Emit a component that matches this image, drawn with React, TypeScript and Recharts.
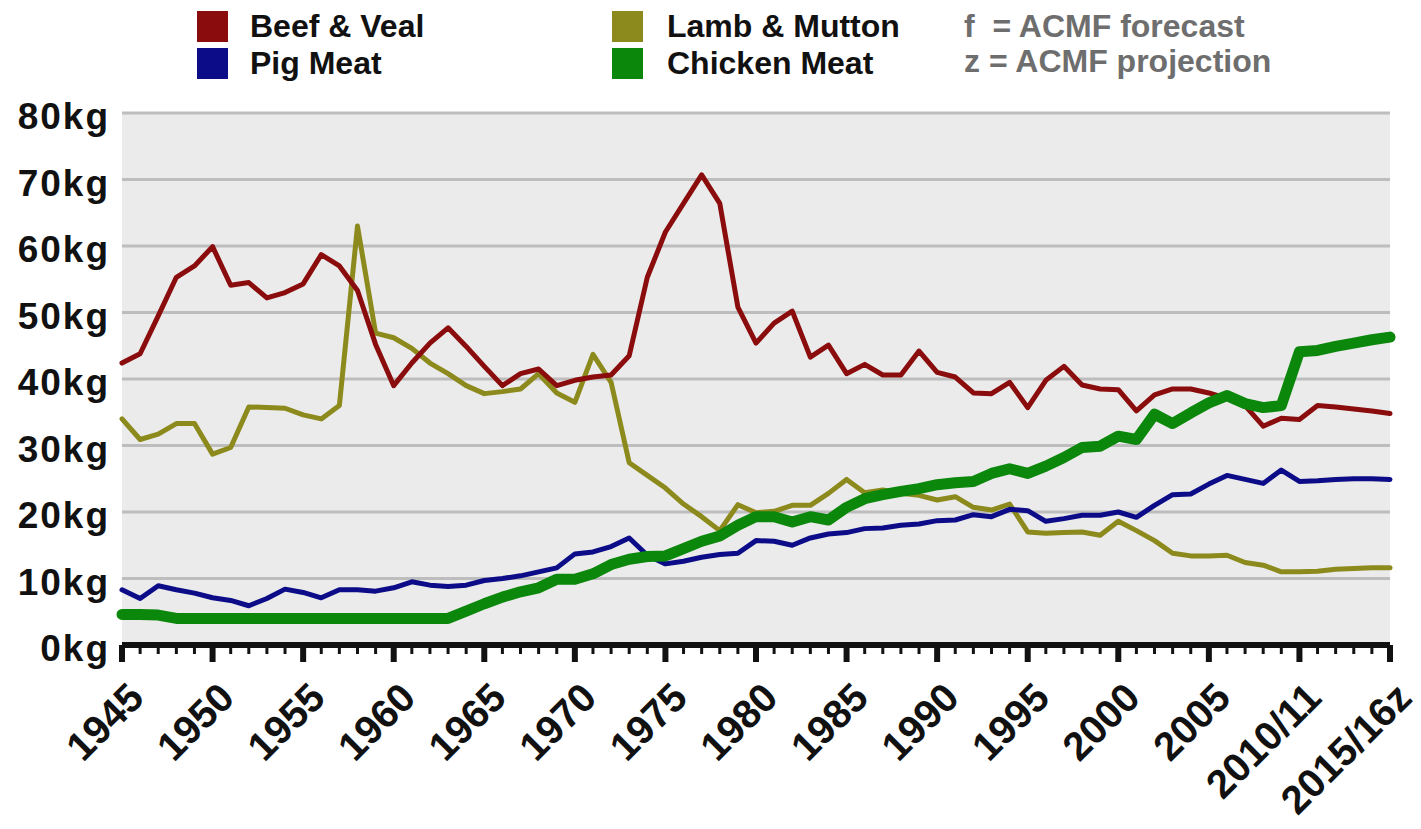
import React from 'react';
import { LineChart, Line, XAxis, YAxis, CartesianGrid } from 'recharts';

// yearly categories, later ones are financial years / projections
const years = [
  '1945', '1946', '1947', '1948', '1949', '1950', '1951', '1952', '1953', '1954',
  '1955', '1956', '1957', '1958', '1959', '1960', '1961', '1962', '1963', '1964',
  '1965', '1966', '1967', '1968', '1969', '1970', '1971', '1972', '1973', '1974',
  '1975', '1976', '1977', '1978', '1979', '1980', '1981', '1982', '1983', '1984',
  '1985', '1986', '1987', '1988', '1989', '1990', '1991', '1992', '1993', '1994',
  '1995', '1996', '1997', '1998', '1999', '2000', '2001', '2002', '2003', '2004',
  '2005', '2006', '2007', '2008', '2009', '2010/11', '2011/12', '2012/13', '2013/14', '2014/15',
  '2015/16z',
];

const beefVeal = [
  42.4, 43.8, 49.5, 55.3, 57, 59.9, 54.1, 54.5, 52.2, 53,
  54.3, 58.7, 57, 53.3, 45.2, 39, 42.4, 45.4, 47.7, 44.9,
  41.9, 39, 40.8, 41.5, 39, 39.8, 40.3, 40.6, 43.5, 55.3,
  62.1, 66.4, 70.7, 66.4, 50.8, 45.4, 48.4, 50.2, 43.3, 45.1,
  40.8, 42.2, 40.6, 40.6, 44.2, 41, 40.3, 37.9, 37.8, 39.5,
  35.7, 39.8, 41.9, 39.1, 38.5, 38.4, 35.2, 37.6, 38.5, 38.5,
  37.9, 37.1, 36, 32.9, 34.1, 33.9, 36, 35.8, 35.5, 35.2,
  34.8,
];

const pigMeat = [
  8.3, 7, 8.9, 8.3, 7.8, 7.1, 6.7, 5.9, 7, 8.4,
  7.9, 7.1, 8.3, 8.3, 8.1, 8.6, 9.5, 9, 8.8, 9,
  9.7, 10, 10.4, 11, 11.6, 13.7, 14, 14.8, 16.1, 13.5,
  12.2, 12.6, 13.2, 13.6, 13.8, 15.7, 15.6, 15, 16.1, 16.7,
  16.9, 17.5, 17.6, 18, 18.2, 18.7, 18.8, 19.6, 19.3, 20.4,
  20.2, 18.6, 19, 19.5, 19.5, 20, 19.2, 21, 22.6, 22.7,
  24.2, 25.5, 24.9, 24.3, 26.3, 24.6, 24.7, 24.9, 25, 25,
  24.9,
];

const lambMutton = [
  34, 30.9, 31.7, 33.3, 33.3, 28.7, 29.7, 35.8, 35.7, 35.6,
  34.6, 34, 36, 63, 46.9, 46.2, 44.6, 42.4, 40.8, 39,
  37.8, 38.1, 38.5, 40.8, 37.9, 36.5, 43.7, 39.5, 27.4, 25.5,
  23.6, 21.2, 19.3, 17.2, 21.1, 19.9, 20.1, 21, 21, 22.8,
  24.9, 22.9, 23.3, 22.8, 22.5, 21.8, 22.3, 20.7, 20.3, 21.2,
  17, 16.8, 16.9, 17, 16.5, 18.6, 17.2, 15.7, 13.8, 13.4,
  13.4, 13.5, 12.4, 12, 11, 11, 11.1, 11.4, 11.5, 11.6,
  11.6,
];

const chickenMeat = [
  4.6, 4.6, 4.5, 4, 4, 4, 4, 4, 4, 4,
  4, 4, 4, 4, 4, 4, 4, 4, 4, 5.1,
  6.2, 7.2, 8, 8.6, 9.9, 9.9, 10.7, 12.1, 12.9, 13.3,
  13.4, 14.5, 15.6, 16.4, 18, 19.3, 19.3, 18.5, 19.3, 18.8,
  20.7, 22, 22.6, 23.1, 23.5, 24.1, 24.4, 24.6, 25.8, 26.5,
  25.8, 26.9, 28.2, 29.7, 29.9, 31.4, 30.9, 34.7, 33.3, 34.9,
  36.4, 37.5, 36.3, 35.7, 36, 44.1, 44.3, 44.9, 45.4, 45.9,
  46.3,
];

const yTicks = [0, 10, 20, 30, 40, 50, 60, 70, 80];

const seriesNames = ['Beef & Veal', 'Pig Meat', 'Lamb & Mutton', 'Chicken Meat'];
const seriesColors = ['#8a0c0c', '#0c0c88', '#8c8a1c', '#0b870b'];
const notes = ['f  = ACMF forecast', 'z = ACMF projection'];

const data = years.map((year, i) => ({
  year,
  beef: beefVeal[i],
  pig: pigMeat[i],
  lamb: lambMutton[i],
  chicken: chickenMeat[i],
}));

const FONT = '"Liberation Sans", Arial, sans-serif';

const XTick = (props: any) => {
  const { x, y, payload } = props;
  const major = years.indexOf(payload.value) % 5 === 0;
  const tx = x + 24;
  const ty = y + 55;
  return (
    <g>
      <line x1={x} x2={x} y1={y} y2={y + (major ? 17 : 9)} stroke="#111" strokeWidth={major ? 6 : 3} />
      {major && (
        <text
          x={tx}
          y={ty}
          transform={`rotate(-45 ${tx} ${ty})`}
          textAnchor="end"
          fontFamily={FONT}
          fontWeight={700}
          fontSize={40}
          fill="#111"
        >
          {payload.value}
        </text>
      )}
    </g>
  );
};

const YTick = (props: any) => {
  const { x, y, payload } = props;
  return (
    <text
      x={x}
      y={y}
      dy={16}
      textAnchor="end"
      fontFamily={FONT}
      fontWeight={700}
      fontSize={37}
      letterSpacing={2}
      fill="#111"
    >
      {`${payload.value}kg`}
    </text>
  );
};

const legendPos = [
  { left: 189, top: 3, textLeft: 242 },
  { left: 189, top: 40, textLeft: 242 },
  { left: 604, top: 3, textLeft: 659 },
  { left: 604, top: 40, textLeft: 659 },
];

const App: React.FC = () => {
  return (
    <div style={{ position: 'relative', width: 1413, height: 821, fontFamily: FONT }}>
      {seriesNames.map((name, i) => (
        <React.Fragment key={name}>
          <div
            style={{
              position: 'absolute',
              left: legendPos[i].left,
              top: legendPos[i].top,
              width: 31,
              height: 31,
              background: seriesColors[i],
            }}
          />
          <div
            style={{
              position: 'absolute',
              left: legendPos[i].textLeft,
              top: legendPos[i].top - 1,
              fontSize: 32,
              lineHeight: '32px',
              fontWeight: 700,
              color: '#111',
              whiteSpace: 'nowrap',
            }}
          >
            {name}
          </div>
        </React.Fragment>
      ))}
      {notes.map((note, i) => (
        <div
          key={note}
          style={{
            position: 'absolute',
            left: 956,
            top: i === 0 ? 2 : 37,
            fontSize: 32,
            lineHeight: '32px',
            fontWeight: 700,
            color: '#6e6e6e',
            whiteSpace: 'pre',
          }}
        >
          {note}
        </div>
      ))}
      <LineChart
        width={1413}
        height={821}
        data={data}
        margin={{ top: 105, right: 31, bottom: 24, left: 4 }}
      >
        <CartesianGrid vertical={false} fill="#ebebeb" stroke="#bdbdbd" strokeWidth={3} />
        <XAxis
          dataKey="year"
          interval={0}
          height={160}
          tickSize={0}
          tickMargin={0}
          axisLine={{ stroke: '#111', strokeWidth: 6 }}
          tickLine={false}
          tick={<XTick />}
        />
        <YAxis
          domain={[0, 80]}
          ticks={yTicks}
          width={110}
          tickSize={0}
          tickMargin={12}
          axisLine={false}
          tickLine={false}
          tick={<YTick />}
        />
        <Line type="linear" dataKey="lamb" stroke={seriesColors[2]} strokeWidth={5} dot={false} strokeLinejoin="round" strokeLinecap="round" isAnimationActive={false} />
        <Line type="linear" dataKey="beef" stroke={seriesColors[0]} strokeWidth={5} dot={false} strokeLinejoin="round" strokeLinecap="round" isAnimationActive={false} />
        <Line type="linear" dataKey="pig" stroke={seriesColors[1]} strokeWidth={5} dot={false} strokeLinejoin="round" strokeLinecap="round" isAnimationActive={false} />
        <Line type="linear" dataKey="chicken" stroke={seriesColors[3]} strokeWidth={11} dot={false} strokeLinejoin="round" strokeLinecap="round" isAnimationActive={false} />
      </LineChart>
    </div>
  );
};

export default App;
